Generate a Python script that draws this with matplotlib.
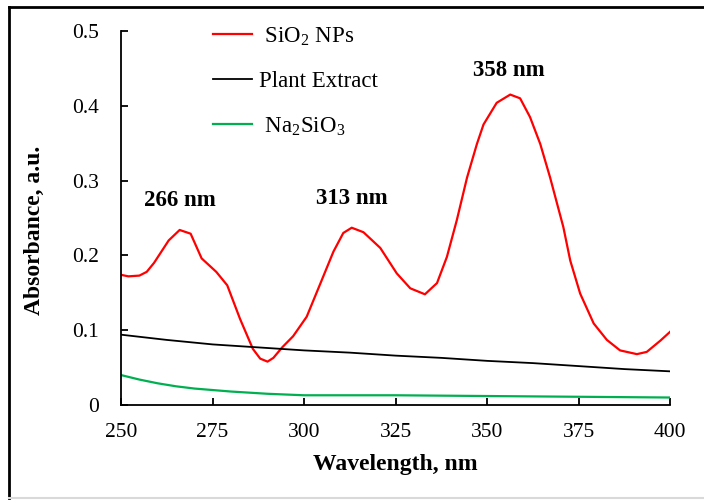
import matplotlib
matplotlib.use('Agg')
import matplotlib.pyplot as plt
from matplotlib.lines import Line2D

plt.rcParams['font.family'] = ['Liberation Serif', 'DejaVu Serif']
plt.rcParams['mathtext.fontset'] = 'custom'
plt.rcParams['mathtext.rm'] = 'Liberation Serif'

# SiO2 NPs spectrum
sio2_x = [250, 252, 255, 257, 259, 261, 263, 266, 269, 272, 276, 279, 282.5, 286,
          288, 290, 291.6, 294, 297, 300.7, 304.4, 308, 310.7, 313, 316.2, 320.8,
          325.3, 329, 333, 336.3, 339, 341.7, 344.5, 347.2, 349, 352.6, 356.3,
          359, 361.7, 364.5, 367.2, 370.8, 372.7, 375.4, 379.1, 382.7, 386.3,
          390.9, 393.6, 397.3, 400]
sio2_y = [0.174, 0.172, 0.173, 0.178, 0.190, 0.205, 0.220, 0.234, 0.229, 0.196, 0.178,
          0.160, 0.115, 0.075, 0.062, 0.058, 0.063, 0.077, 0.092, 0.118, 0.162,
          0.205, 0.230, 0.237, 0.231, 0.210, 0.176, 0.156, 0.148, 0.163, 0.198,
          0.247, 0.304, 0.349, 0.375, 0.404, 0.415, 0.410, 0.385, 0.349, 0.304,
          0.238, 0.193, 0.149, 0.109, 0.087, 0.073, 0.068, 0.071, 0.086, 0.098]

# Plant extract
plant_x = [250, 262.5, 275, 287.5, 300, 312.5, 325, 337.5, 350, 362.5, 375, 387.5, 400]
plant_y = [0.094, 0.087, 0.081, 0.077, 0.073, 0.070, 0.066, 0.063, 0.059, 0.056, 0.052, 0.048, 0.045]

# Na2SiO3
na_x = [250, 255, 260, 265, 270, 275, 280, 290, 300, 325, 350, 375, 400]
na_y = [0.040, 0.034, 0.029, 0.025, 0.022, 0.020, 0.018, 0.015, 0.013, 0.013, 0.012, 0.011, 0.010]

peak_labels = ['266 nm', '313 nm', '358 nm']
peak_x = [266, 313, 356]
peak_y = [0.273, 0.276, 0.447]

fig = plt.figure(figsize=(7.04, 5.0), dpi=100)
ax = fig.add_axes([0.172, 0.19, 0.78, 0.748])

ax.plot(sio2_x, sio2_y, color='#ff0000', lw=1.6, label=r' SiO$_2$ NPs')
ax.plot(plant_x, plant_y, color='black', lw=1.3, label='Plant Extract')
ax.plot(na_x, na_y, color='#00b050', lw=1.6, label=r' Na$_2$SiO$_3$')

for lab, px, py in zip(peak_labels, peak_x, peak_y):
    ax.text(px, py, lab, ha='center', va='center', fontsize=16.5, fontweight='bold')

ax.set_xlim(250, 400)
ax.set_ylim(0, 0.5)
ax.set_xticks([250, 275, 300, 325, 350, 375, 400])
ax.set_yticks([0, 0.1, 0.2, 0.3, 0.4, 0.5])
ax.set_yticklabels(['0', '0.1', '0.2', '0.3', '0.4', '0.5'])
ax.tick_params(direction='in', length=5, width=1.3, labelsize=15.5)
ax.tick_params(axis='y', pad=16)
ax.tick_params(axis='x', pad=13)
for s in ['top', 'right']:
    ax.spines[s].set_visible(False)
for s in ['left', 'bottom']:
    ax.spines[s].set_linewidth(1.3)

ax.set_xlabel('Wavelength, nm', fontsize=17, fontweight='bold')
ax.set_ylabel('Absorbance, a.u.', fontsize=17, fontweight='bold')
ax.xaxis.set_label_coords(0.5, -0.13)
ax.yaxis.set_label_coords(-0.138, 0.468)

ax.legend(loc='upper left', bbox_to_anchor=(0.13, 1.07), frameon=False,
          fontsize=16.5, handlelength=1.7, labelspacing=1.0, handletextpad=0.3)

# frame around the picture
fig.add_artist(Line2D([0.013, 0.013], [0.005, 0.986], transform=fig.transFigure, color='black', lw=2))
fig.add_artist(Line2D([0.013, 1.0], [0.986, 0.986], transform=fig.transFigure, color='black', lw=2))
fig.add_artist(Line2D([0.013, 1.0], [0.005, 0.005], transform=fig.transFigure, color='#d9d9d9', lw=1.5))

fig.savefig('out.png', dpi=100)
